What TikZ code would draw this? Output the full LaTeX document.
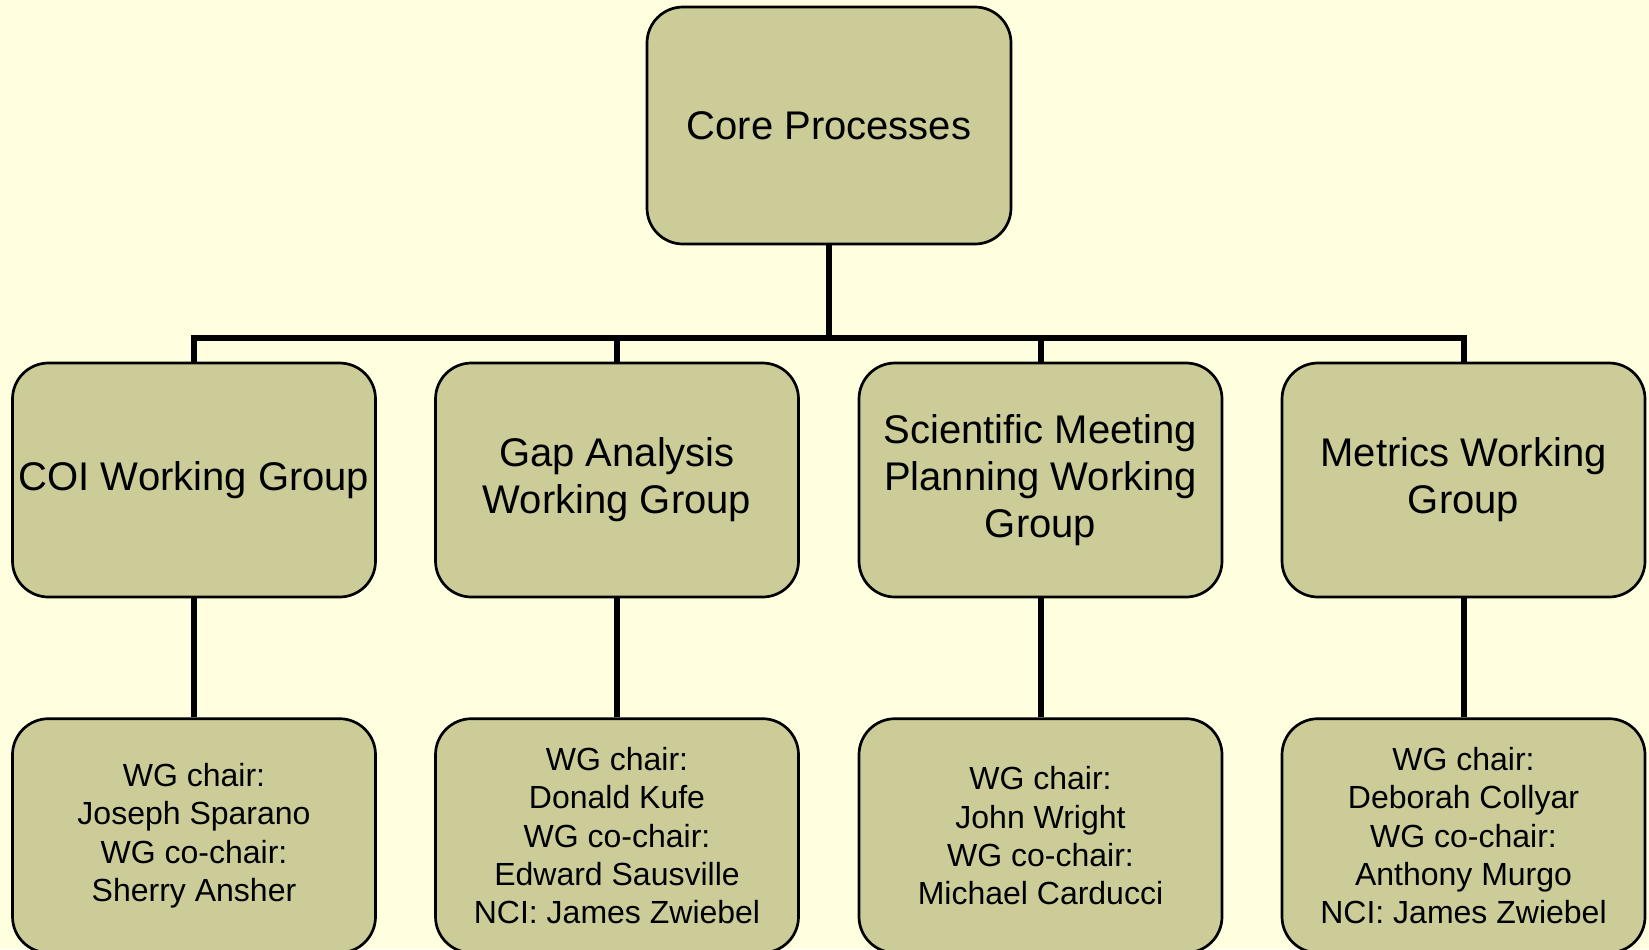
\documentclass[tikz,border=0pt]{standalone}
\usepackage{fontspec}
\setmainfont{Liberation Sans}
\usepackage{tikz}
\usetikzlibrary{positioning}
\definecolor{bgyellow}{HTML}{FFFFE0}
\definecolor{olivebox}{HTML}{CCCC99}
\tikzset{
  orgbox/.style   = {shape=rectangle, rounded corners=18pt,
                     draw, line width=1.35pt, fill=olivebox,
                     align=center, inner sep=2pt,
                     minimum width=181.5pt, minimum height=117pt},
  topbox/.style   = {orgbox, minimum width=182pt, minimum height=118.5pt,
                     font=\fontsize{20pt}{23.4pt}\selectfont},
  groupbox/.style = {orgbox, font=\fontsize{20pt}{23.6pt}\selectfont},
  chairbox/.style = {orgbox, font=\fontsize{16pt}{19.1pt}\selectfont},
  link/.style     = {draw, line width=3pt}
}
\begin{document}
\begin{tikzpicture}[x=0.5pt, y=-0.5pt]
  \fill[bgyellow] (0,0) rectangle (1649,949);
  \useasboundingbox (0,0) rectangle (1649,949);

  \node[topbox] (core) at (829,125.5) {Core Processes};

  \node[groupbox] (coi) at (194,480)    {COI Working Group};
  \node[groupbox] (gap) at (617,480)    {Gap Analysis\\Working Group};
  \node[groupbox] (sci) at (1040.5,480) {Scientific Meeting\\Planning Working\\Group};
  \node[groupbox] (met) at (1463.5,480) {Metrics Working\\Group};

  \node[chairbox, below=59.5pt of coi] (coichair)
    {WG chair:\\Joseph Sparano\\WG co-chair:\\Sherry Ansher};
  \node[chairbox, below=59.5pt of gap] (gapchair)
    {WG chair:\\Donald Kufe\\WG co-chair:\\Edward Sausville\\NCI: James Zwiebel};
  \node[chairbox, below=59.5pt of sci] (scichair)
    {WG chair:\\John Wright\\WG co-chair:\\Michael Carducci};
  \node[chairbox, below=59.5pt of met] (metchair)
    {WG chair:\\Deborah Collyar\\WG co-chair:\\Anthony Murgo\\NCI: James Zwiebel};

  % tree lines
  \coordinate (split) at (829,338);
  \draw[link] (core.south) -- (split);
  \foreach \grp in {coi,gap,sci,met}
    \draw[link] (split) -| (\grp.north);
  \foreach \grp in {coi,gap,sci,met}
    \draw[link] (\grp.south) -- (\grp chair.north);
\end{tikzpicture}
\end{document}
